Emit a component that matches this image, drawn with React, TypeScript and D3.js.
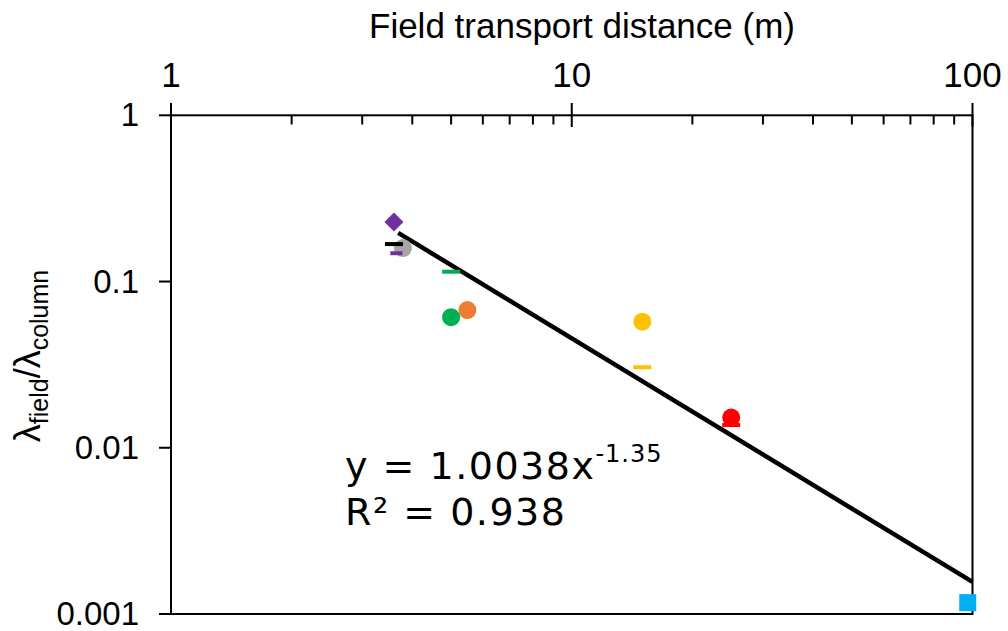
import React from "react";
import * as d3 from "d3";

const xTicks = [1, 10, 100];
const yTicks = [1, 0.1, 0.01, 0.001];
const xTickLabels = ["1", "10", "100"];
const yTickLabels = ["1", "0.1", "0.01", "0.001"];

// circles
const circleX = [3.79, 5.0, 5.49, 15.0, 25.0];
const circleY = [0.159, 0.061, 0.0674, 0.0573, 0.0152];
const circleColor = ["#a5a5a5", "#00b050", "#ed7d31", "#ffc000", "#ff0000"];

// dashes
const dashX = [3.65, 5.0, 15.0, 25.0, 3.6];
const dashY = [0.148, 0.1146, 0.0305, 0.0137, 0.168];
const dashColor = ["#7030a0", "#00b050", "#ffc000", "#ff0000", "#000000"];

// diamond
const diamondX = [3.6];
const diamondY = [0.228];
const diamondColor = ["#7030a0"];

// square
const squareX = [97.3];
const squareY = [0.00117];
const squareColor = ["#00b0f0"];

// trend line endpoints
const trendX = [3.69, 100];
const trendY = [0.196, 0.00156];

export default function App() {
  const x = d3.scaleLog().domain([1, 100]).range([171, 972.5]);
  const y = d3.scaleLog().domain([1, 0.001]).range([115.3, 614]);
  const minor: number[] = [];
  for (const dec of [1, 10]) for (let k = 2; k <= 9; k++) minor.push(dec * k);
  const line = d3.line<number>().x((_, i) => x(trendX[i])).y((_, i) => y(trendY[i]));
  const font = "'Liberation Sans', Arial, sans-serif";
  const eqFont = "'DejaVu Sans', sans-serif";
  return (
    <svg width={1008} height={631} style={{ position: "absolute", left: 0, top: 0, background: "#fff" }}>
      <rect width={1008} height={631} fill="#fff" />
      {/* title */}
      <text x={582} y={38} fontFamily={font} fontSize={35} textAnchor="middle" fill="#000">Field transport distance (m)</text>
      {/* x tick labels */}
      {xTicks.map((t, i) => (
        <text key={"xl" + i} x={x(t)} y={87} fontFamily={font} fontSize={35} textAnchor="middle" fill="#000">{xTickLabels[i]}</text>
      ))}
      {/* y tick labels */}
      {yTicks.map((t, i) => (
        <text key={"yl" + i} x={139} y={y(t) + 11} fontFamily={font} fontSize={33} textAnchor="end" fill="#000">{yTickLabels[i]}</text>
      ))}
      {/* y label */}
      <text transform={`translate(40,${356}) rotate(-90)`} fontFamily={font} fontSize={36} textAnchor="middle" fill="#000">
        λ<tspan fontSize={25} dy={8}>field</tspan><tspan dy={-8}>/λ</tspan><tspan fontSize={25} dy={8}>column</tspan>
      </text>
      {/* frame */}
      <rect x={171} y={115.3} width={972.5 - 171} height={614 - 115.3} fill="none" stroke="#000" strokeWidth={2} />
      {/* x major ticks */}
      {xTicks.map((t, i) => (
        <line key={"xt" + i} x1={x(t)} x2={x(t)} y1={103} y2={127} stroke="#000" strokeWidth={2} />
      ))}
      {minor.map((t, i) => (
        <line key={"xm" + i} x1={x(t)} x2={x(t)} y1={115.3} y2={124.5} stroke="#000" strokeWidth={2} />
      ))}
      {yTicks.map((t, i) => (
        <line key={"yt" + i} x1={159} x2={171} y1={y(t)} y2={y(t)} stroke="#000" strokeWidth={2} />
      ))}
      {/* trend line */}
      <path d={line(trendX) || ""} stroke="#000" strokeWidth={4.5} fill="none" />
      {/* circles */}
      {circleX.map((v, i) => (
        <circle key={"c" + i} cx={x(v)} cy={y(circleY[i])} r={9} fill={circleColor[i]} />
      ))}
      {dashX.map((v, i) => (
        <rect key={"d" + i} x={x(v) - (i === 0 ? 6 : 9)} y={y(dashY[i]) - 2} width={i === 0 ? 12 : 18} height={4} fill={dashColor[i]} />
      ))}
      {diamondX.map((v, i) => (
        <path key={"dm" + i} d={`M${x(v)},${y(diamondY[i]) - 9.5} l9.5,9.5 l-9.5,9.5 l-9.5,-9.5 Z`} fill={diamondColor[i]} />
      ))}
      {squareX.map((v, i) => (
        <rect key={"sq" + i} x={x(v) - 8.5} y={y(squareY[i]) - 8.5} width={17} height={17} fill={squareColor[i]} />
      ))}
      {/* equation */}
      <text x={345} y={479} fontFamily={eqFont} fontSize={38} letterSpacing={1.5} fill="#000">
        y = 1.0038x<tspan fontSize={24} dy={-17} letterSpacing={1}>-1.35</tspan>
      </text>
      <text x={345} y={525} fontFamily={eqFont} fontSize={38} letterSpacing={1.5} fill="#000">R² = 0.938</text>
    </svg>
  );
}
